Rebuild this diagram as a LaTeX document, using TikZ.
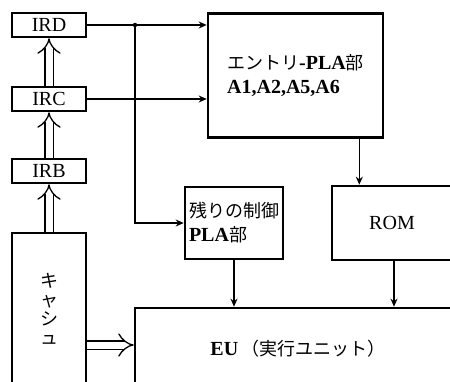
\documentclass[tikz,border=0pt]{standalone}
\usepackage{fontspec}
\setmainfont{Liberation Serif}
\newfontfamily\jpfont{Noto Sans CJK JP}
\newcommand{\jp}[1]{{\jpfont\mdseries\fontsize{18}{22}\selectfont #1}}
\usetikzlibrary{arrows.meta,positioning}
\tikzset{
  unitbox/.style={draw,line width=2.6pt,inner sep=0pt,align=left,font=\fontsize{20}{24}\selectfont},
  regbox/.style={unitbox,minimum width=74,minimum height=24},
  signal/.style={-{Stealth[length=8pt,width=7pt]},line width=1.3pt},
  bus/.style={double,double distance=7pt,line width=1.3pt,-{Implies}},
  junction/.style={circle,fill,inner sep=0pt,minimum size=4.5pt}
}

\begin{document}
\begin{tikzpicture}[x=1pt,y=-1pt]
  \useasboundingbox (0,0) rectangle (450,381);
  \clip (0,0) rectangle (450,381);
  % instruction registers
  \node[regbox] (ird) at (49,25) {IRD};
  \node[regbox] (irc) at (49,99) {IRC};
  \node[regbox] (irb) at (49,171) {IRB};
  \node[unitbox,minimum width=74,minimum height=151,align=center,font=\jpfont\fontsize{18}{19}\selectfont] (cache) at (49,308.5) {キ\\ャ\\シ\\ュ};
  % decoders
  \node[unitbox,minimum width=175,minimum height=124] (entry) at (295.5,75.5)
    {\jp{エントリ}\bfseries -PLA\jp{部}\\\bfseries A1,A2,A5,A6};
  \node[unitbox,minimum width=98,minimum height=72] (rest) at (234,223)
    {\jp{残りの制御}\\\bfseries PLA\jp{部}};
  \node[unitbox,minimum width=120,minimum height=74] (rom) at (392,223) {ROM};
  \node[unitbox,minimum width=326,minimum height=82] (eu) at (298,349)
    {\bfseries EU\,\jp{（実行ユニット）}};
  % connectors
  \draw[bus] (cache.north) -- (irb.south);
  \draw[bus] (irb.north) -- (irc.south);
  \draw[bus] (irc.north) -- (ird.south);
  \draw[bus] ([yshift=-36.5pt]cache.east) -- ([yshift=-36.5pt]cache.east -| eu.west);
  \coordinate (split) at (135,25);
  \node[junction] (dot) at (split) {};
  \draw[signal] (ird.east) -- (ird.east -| entry.west);
  \draw[signal] (irc.east) -- (irc.east -| entry.west);
  \draw[signal] (dot.center) |- (rest.west);
  \draw[signal] ([xshift=-25pt]entry.south east) -- ([xshift=-25pt]entry.south east |- rom.north);
  \draw[signal] (rest.south) -- (rest.south |- eu.north);
  \draw[signal] ([xshift=2pt]rom.south) -- ([xshift=2pt]rom.south |- eu.north);
\end{tikzpicture}
\end{document}
